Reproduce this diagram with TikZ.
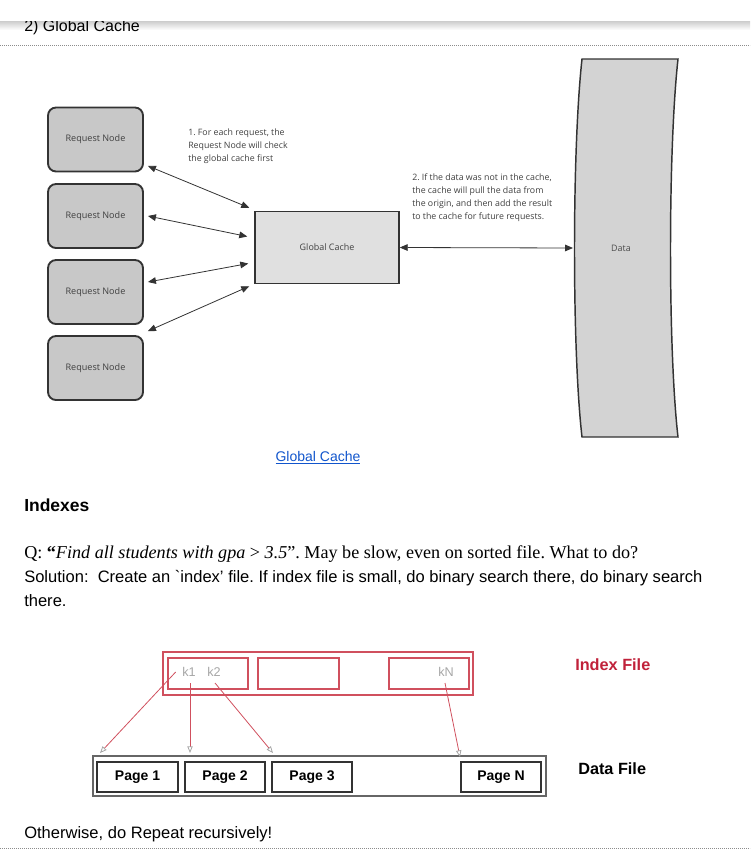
\documentclass[tikz,border=0pt]{standalone}
\usepackage{fontspec}
\setmainfont{Liberation Sans}
\newfontfamily\diagfont{Open Sans}
\newfontfamily\timesfont{Liberation Serif}
\usetikzlibrary{arrows.meta,positioning}
\frenchspacing

\definecolor{edgegray}{HTML}{333333}
\definecolor{reqfill}{HTML}{C8C8C8}
\definecolor{cachefill}{HTML}{E0E0E0}
\definecolor{datafill}{HTML}{D3D3D3}
\definecolor{idxred}{HTML}{D0505E}
\definecolor{titlered}{HTML}{C0213A}
\definecolor{linkblue}{HTML}{1155CC}

\tikzset{
  reqnode/.style={draw=edgegray, line width=1.4pt, fill=reqfill, rounded corners=6pt,
    minimum width=95*0.75pt, minimum height=64*0.75pt, inner sep=0pt,
    font=\diagfont\fontsize{6.8}{8}\selectfont, text=black!75},
  dblarrow/.style={{Triangle[length=6pt,width=5pt]}-{Triangle[length=6pt,width=5pt]}, line width=0.6pt, edgegray},
  note/.style={anchor=north west, align=left, inner sep=0pt, font=\diagfont\fontsize{6.6}{9.75}\selectfont, text=black!75},
  idxbox/.style={draw=idxred, line width=0.8pt, inner sep=0pt},
  pagebox/.style={draw=edgegray, line width=0.8pt, minimum width=80*0.75pt, minimum height=30*0.75pt,
    inner sep=0pt, font=\bfseries\fontsize{10.5}{12}\selectfont},
  keyarrow/.style={-{Triangle[open, color=black!35, length=5pt, width=4pt]}, idxred, line width=0.6pt},
  body/.style={anchor=base west, inner sep=0pt, font=\fontsize{12.4}{14}\selectfont}
}

\begin{document}
\begin{tikzpicture}[x=0.75pt,y=-0.75pt]
\useasboundingbox (0,0) rectangle (750,853);

% header, half hidden under the top bar
\shade[top color=black!20, bottom color=white] (0,21) rectangle (750,30);
\node[body, font=\fontsize{12}{14}\selectfont] (hdr) at (24,31.5) {2) Global Cache};
\fill[white] (0,0) rectangle (750,21);
\draw[black!45, line width=0.5pt, dash pattern=on 0.6pt off 0.9pt] (0,45) -- (750,45);

% request nodes on the left
\foreach \i/\y in {1/139.5,2/216,3/292,4/368}
  \node[reqnode] (rn\i) at (95.5,\y) {Request Node};

% global cache and data store
\node[draw=edgegray, line width=1.1pt, fill=cachefill, minimum width=144*0.75pt, minimum height=72*0.75pt,
  inner sep=0pt, font=\diagfont\fontsize{6.7}{8}\selectfont, text=black!75] (gc) at (327,247.5) {Global Cache};
\draw[edgegray, line width=1.1pt, fill=datafill]
  (582,59) .. controls (572,150) and (572,350) .. (582,437) --
  (678,437) .. controls (668,350) and (668,150) .. (678,59) -- cycle;
\node[font=\diagfont\fontsize{6.7}{8}\selectfont, text=black!70] (data) at (621,248) {Data};
\coordinate (datain) at (573,248);

% request <-> cache
\draw[dblarrow] ([shift={(4,-6.5)}]rn1.south east) -- ([shift={(-5,-3)}]gc.north west);
\draw[dblarrow] ([shift={(4,0)}]rn2.east) -- ([shift={(-7,-11)}]gc.west);
\draw[dblarrow] ([shift={(4,-10)}]rn3.east) -- ([shift={(-6,16)}]gc.west);
\draw[dblarrow] ([shift={(4,-4)}]rn4.north east) -- ([shift={(-5,2)}]gc.south west);
\draw[dblarrow] (gc.east) -- (datain);

% notes
\node[note] (note1) at (188,129) {1. For each request, the\\Request Node will check\\the global cache first};
\node[note] (note2) at (412,173) {2. If the data was not in the cache,\\the cache will pull the data from\\the origin, and then add the result\\to the cache for future requests.};

% caption link
\node[inner sep=0pt, font=\fontsize{10.5}{12}\selectfont, text=linkblue] (link) at (318,458) {\underline{Global Cache}};

% text block
\node[body, font=\bfseries\fontsize{13.1}{14}\selectfont] (idxhead) at (24,511) {Indexes};
\node[body, font=\timesfont\fontsize{13.6}{15}\selectfont] (qline) at (24,558) {Q: \textbf{“}\textit{Find all students with gpa} > \textit{3.5}”. May be slow, even on sorted file. What to do?};
\node[body] (sol1) at (24,582) {Solution:\ \ Create an \textasciigrave index’ file. If index file is small, do binary search there, do binary search};
\node[body] (sol2) at (24,606) {there.};

% index file
\node[idxbox, minimum width=310*0.75pt, minimum height=43*0.75pt] (ixf) at (318,673.5) {};
\node[idxbox, minimum width=80*0.75pt, minimum height=31*0.75pt] (ix1) at (208,673.5) {};
\node[idxbox, minimum width=81*0.75pt, minimum height=31*0.75pt] (ix2) at (298.5,673.5) {};
\node[idxbox, minimum width=80*0.75pt, minimum height=31*0.75pt] (ix3) at (429,673.5) {};
\node[inner sep=0pt, text=black!35, font=\fontsize{9.5}{11}\selectfont] (k1) at (189,672) {k1};
\node[inner sep=0pt, text=black!35, font=\fontsize{9.5}{11}\selectfont] (k2) at (214,672) {k2};
\node[inner sep=0pt, text=black!35, font=\fontsize{9.5}{11}\selectfont] (kN) at (446,672) {kN};
\node[body, font=\bfseries\fontsize{12.2}{14}\selectfont, text=titlered] (ixlabel) at (575,670) {Index File};

% data file
\node[draw=black!60, line width=0.8pt, minimum width=453*0.75pt, minimum height=40*0.75pt, inner sep=0pt] (df) at (319.5,776) {};
\node[pagebox, minimum width=81*0.75pt] (pg1) at (137.5,777) {Page 1\hspace{6pt}};
\node[pagebox] (pg2) at (225,777) {Page 2};
\node[pagebox] (pg3) at (312,777) {Page 3};
\node[pagebox] (pgN) at (501,777) {Page N};
\node[body, font=\bfseries\fontsize{12.2}{14}\selectfont] (dflabel) at (578,774) {Data File};

% keys -> pages
\coordinate (t1) at (100,753);
\coordinate (t2) at (190,753);
\coordinate (t3) at (273,753);
\coordinate (tN) at (460,757);
\draw[keyarrow] ([xshift=-10]k1.center) -- (t1);
\draw[keyarrow] ([shift={(1,11)}]k1.center) -- (t2);
\draw[keyarrow] ([shift={(1,11)}]k2.center) -- (t3);
\draw[keyarrow] ([shift={(-1,11)}]kN.center) -- (tN);

% footer
\node[body] (foot) at (24,838) {Otherwise, do Repeat recursively!};
\draw[black!45, line width=0.5pt, dash pattern=on 0.6pt off 0.9pt] (0,848) -- (750,848);
\end{tikzpicture}
\end{document}
